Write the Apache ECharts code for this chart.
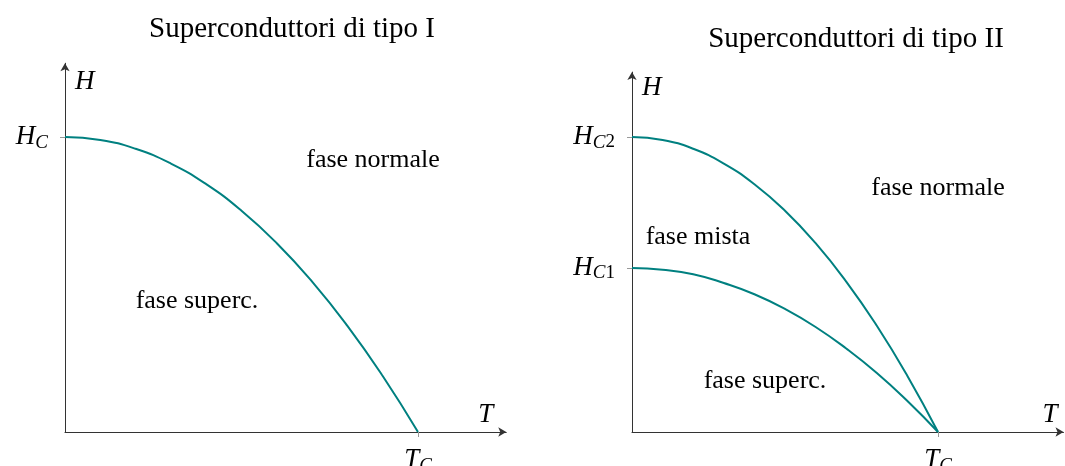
<!DOCTYPE html>
<html>
<head>
<meta charset="utf-8">
<script src="https://cdn.jsdelivr.net/npm/echarts@6/dist/echarts.min.js"></script>
<style>
  html, body { margin: 0; padding: 0; background: #fff; }
  #chart { width: 1065px; height: 466px; }
</style>
</head>
<body>
<div id="chart"></div>
<script>
// Critical field vs temperature, T in units of Tc, H in units of Hc (Hc2 for type II)
const tSteps = [0, 0.1, 0.2, 0.3, 0.4, 0.5, 0.6, 0.7, 0.8, 0.9, 1];

const typeI_Hc   = [1, 0.99, 0.96, 0.91, 0.84, 0.75, 0.64, 0.51, 0.36, 0.19, 0];
const typeII_Hc2 = [1, 0.99, 0.96, 0.91, 0.84, 0.75, 0.64, 0.51, 0.36, 0.19, 0];
const typeII_Hc1 = [0.556, 0.55, 0.535, 0.505, 0.467, 0.417, 0.356, 0.283, 0.2, 0.105, 0];

const titles = ['Superconduttori di tipo I', 'Superconduttori di tipo II'];
const phaseLabels = ['fase normale', 'fase superc.', 'fase normale', 'fase mista', 'fase superc.'];

const TEAL = '#008080';
const AXIS = '#333';
const SERIF = '"Liberation Serif", "DejaVu Serif", serif';

const mathRich = {
  m:  { fontFamily: SERIF, fontStyle: 'italic', fontSize: 27, color: '#000', lineHeight: 30, verticalAlign: 'middle' },
  si: { fontFamily: SERIF, fontStyle: 'italic', fontSize: 19, color: '#000', lineHeight: 30, verticalAlign: 'bottom', padding: [12, 0, 0, 0] },
  su: { fontFamily: SERIF, fontSize: 19, color: '#000', lineHeight: 30, verticalAlign: 'bottom', padding: [12, 0, 0, 0] }
};

function pairs(xs, ys) { return xs.map((x, i) => [x, ys[i]]); }

function xAxisFor(gridIndex, max, nameGap) {
  return {
    type: 'value', gridIndex, min: 0, max,
    name: '{m|T}', nameLocation: 'end', nameGap,
    nameTextStyle: { rich: mathRich, verticalAlign: 'bottom', align: 'left', padding: [0, 0, 2, 0] },
    axisLine: { show: true, lineStyle: { color: AXIS, width: 1 }, symbol: ['none', 'arrow'], symbolSize: [7, 8] },
    axisTick: { show: true, customValues: [1], length: 5, lineStyle: { color: '#999' } },
    axisLabel: { show: true, customValues: [1], margin: 13, formatter: () => '{m|T}{si|C}', rich: mathRich },
    splitLine: { show: false }
  };
}

function yAxisFor(gridIndex, max, ticks, labels, nameGap, namePad) {
  return {
    type: 'value', gridIndex, min: 0, max,
    name: '{m|H}', nameLocation: 'end', nameGap,
    nameTextStyle: { rich: mathRich, align: 'left', verticalAlign: 'bottom', padding: [0, 0, 0, namePad] },
    axisLine: { show: true, lineStyle: { color: AXIS, width: 1 }, symbol: ['none', 'arrow'], symbolSize: [7, 8] },
    axisTick: { show: true, customValues: ticks, length: 5, lineStyle: { color: '#999' } },
    axisLabel: {
      show: true, customValues: ticks, margin: 17, rich: mathRich,
      formatter: v => labels[ticks.indexOf(v)]
    },
    splitLine: { show: false }
  };
}

const lineStyle = { color: TEAL, width: 2 };
function curve(xi, yi, data) {
  return {
    type: 'line', xAxisIndex: xi, yAxisIndex: yi, data,
    smooth: 0.5, showSymbol: false, silent: true,
    lineStyle, itemStyle: { color: TEAL }
  };
}

function textEl(text, x, y, size) {
  return {
    type: 'text', x, y, silent: true,
    style: { text, fill: '#000', font: size + 'px ' + SERIF, textAlign: 'center', textVerticalAlign: 'middle' }
  };
}

const titleStyle = { fontFamily: SERIF, fontWeight: 'normal', fontSize: 29, color: '#000' };

const option = {
  animation: false,
  backgroundColor: '#fff',
  title: [
    { text: titles[0], left: 287, top: 10, textAlign: 'center', textStyle: titleStyle },
    { text: titles[1], left: 851, top: 20, textAlign: 'center', textStyle: titleStyle }
  ],
  grid: [
    { left: 65, top: 63.25, width: 441.25, height: 368.75, containLabel: false, outerBoundsMode: 'none' },
    { left: 632, top: 72.1, width: 431.5, height: 359.9, containLabel: false, outerBoundsMode: 'none' }
  ],
  xAxis: [
    xAxisFor(0, 1.25, -28),
    xAxisFor(1, 1.41, -21)
  ],
  yAxis: [
    yAxisFor(0, 1.25, [1], ['{m|H}{si|C}'], -34, 10),
    yAxisFor(1, 1.22, [typeII_Hc1[0], 1], ['{m|H}{si|C}{su|1}', '{m|H}{si|C}{su|2}'], -31, 10)
  ],
  series: [
    curve(0, 0, pairs(tSteps, typeI_Hc)),
    curve(1, 1, pairs(tSteps, typeII_Hc2)),
    curve(1, 1, pairs(tSteps, typeII_Hc1))
  ],
  graphic: [
    textEl(phaseLabels[0], 373, 160, 26),
    textEl(phaseLabels[1], 197, 301, 26),
    textEl(phaseLabels[2], 938, 188, 26),
    textEl(phaseLabels[3], 698, 237, 26),
    textEl(phaseLabels[4], 765, 381, 26)
  ]
};

const chart = echarts.init(document.getElementById('chart'), null, { renderer: 'canvas' });
chart.setOption(option);
</script>
</body>
</html>
